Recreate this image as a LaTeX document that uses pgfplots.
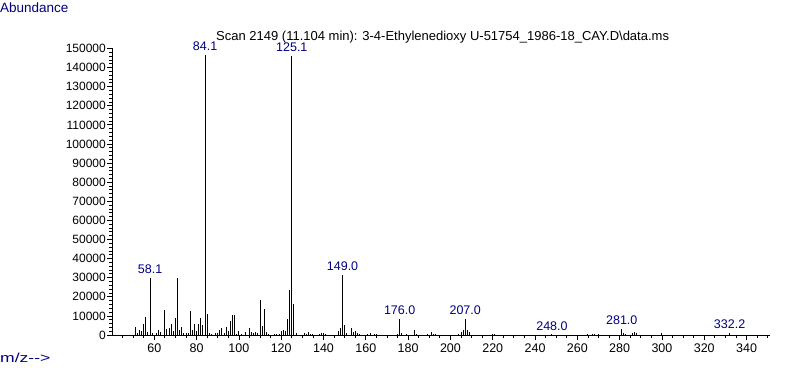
\documentclass[border=0pt]{standalone}
\usepackage{pgfplots}
\pgfplotsset{compat=1.18}
\usepackage{pgfplotstable}
\usepackage{graphicx}
\usepackage{fontspec}
\setmainfont{Liberation Sans}
\definecolor{navy}{RGB}{0,0,128}

\pgfplotstableread{
mz ab
51 4200
52 1000
53 2400
54 2100
55 5600
56 9400
57 1600
58 30000
59 900
61 1000
62 2400
63 1600
65 13100
66 3000
67 3500
68 5800
69 2100
70 9000
71 30000
72 2400
73 4200
74 1000
75 1000
76 1000
77 12600
78 2700
79 5900
80 2100
81 5900
82 8900
83 5200
84 146500
85 11000
86 1000
87 500
89 1000
90 1000
91 2600
92 3700
93 1000
94 4200
95 2100
96 7500
97 10500
98 10500
99 500
100 2100
101 500
103 1400
105 3800
106 1400
107 1000
108 1400
109 1000
110 18500
111 4500
112 13500
113 1700
114 300
117 300
118 700
119 700
120 2000
121 2400
122 2000
123 8300
124 23500
125 146000
126 16200
127 1000
131 1000
132 700
133 1400
134 700
135 500
138 700
139 1000
140 1000
141 500
147 2100
148 3800
149 31500
150 5200
151 1000
153 3700
154 1400
155 2100
156 1000
157 700
161 700
162 1000
164 700
165 700
175 700
176 8500
177 1000
179 500
183 2700
184 700
189 700
191 1700
192 700
193 700
204 700
205 1400
206 2400
207 8400
208 2400
209 1700
220 700
221 500
248 300
265 300
267 300
268 300
270 300
281 3000
282 1000
283 700
286 1000
287 1400
288 1000
300 800
332 1200
}\spectrum

\begin{document}
\fontsize{12bp}{14bp}\selectfont
\begin{tikzpicture}[x=1bp,y=1bp]
\path[use as bounding box] (0,0) rectangle (787,367);
\begin{axis}[
  at={(112bp,32bp)}, anchor=south west,
  scale only axis, width=657.8bp, height=286.5bp,
  xmin=40, xmax=351, ymin=0, ymax=150000,
  axis x line=bottom, axis y line=left,
  axis line style={-, line width=1bp, black},
  xtick={60,80,...,340}, minor xtick={45,50,...,350},
  ytick={0,10000,...,150000}, minor y tick num=4,
  tick align=outside, major tick length=5bp, minor tick length=3bp,
  every tick/.style={black, line width=0.8bp},
  scaled y ticks=false,
  /pgf/number format/assume math mode=true,
  yticklabel style={/pgf/number format/fixed, /pgf/number format/1000 sep={}, font=\fontsize{12bp}{14bp}\selectfont, inner sep=1bp},
  xticklabel style={font=\fontsize{12.5bp}{14bp}\selectfont},
  clip=false,
]
\addplot[ycomb, black, line width=1bp, mark=none] table[x=mz, y=ab] {\spectrum};
\begin{scope}[every node/.style={text=navy, anchor=south, font=\fontsize{12.5bp}{14bp}\selectfont}]
\node at (axis cs:58,30000) {58.1};
\node at (axis cs:84,146500) {84.1};
\node at (axis cs:125,146000) {125.1};
\node at (axis cs:149,31500) {149.0};
\node at (axis cs:176,8500) {176.0};
\node at (axis cs:207,8400) {207.0};
\node at (axis cs:248,300) {248.0};
\node at (axis cs:281,3000) {281.0};
\node at (axis cs:332,1200) {332.2};
\end{scope}
\end{axis}
\node[anchor=west, text=navy, inner sep=0pt, font=\fontsize{13.5bp}{15bp}\selectfont] at (0,359) {Abundance};
\node[anchor=west, text=navy, inner sep=0pt, font=\fontsize{13bp}{15bp}\selectfont] at (0,9) {\scalebox{1.35}[1]{m/z-{}-{}>}};
\node[anchor=west, inner sep=0pt, font=\fontsize{13bp}{15bp}\selectfont] at (216,330) {Scan 2149 (11.104 min): 3-4-Ethylenedioxy U-51754\_1986-18\_CAY.D\textbackslash data.ms};
\end{tikzpicture}
\end{document}
